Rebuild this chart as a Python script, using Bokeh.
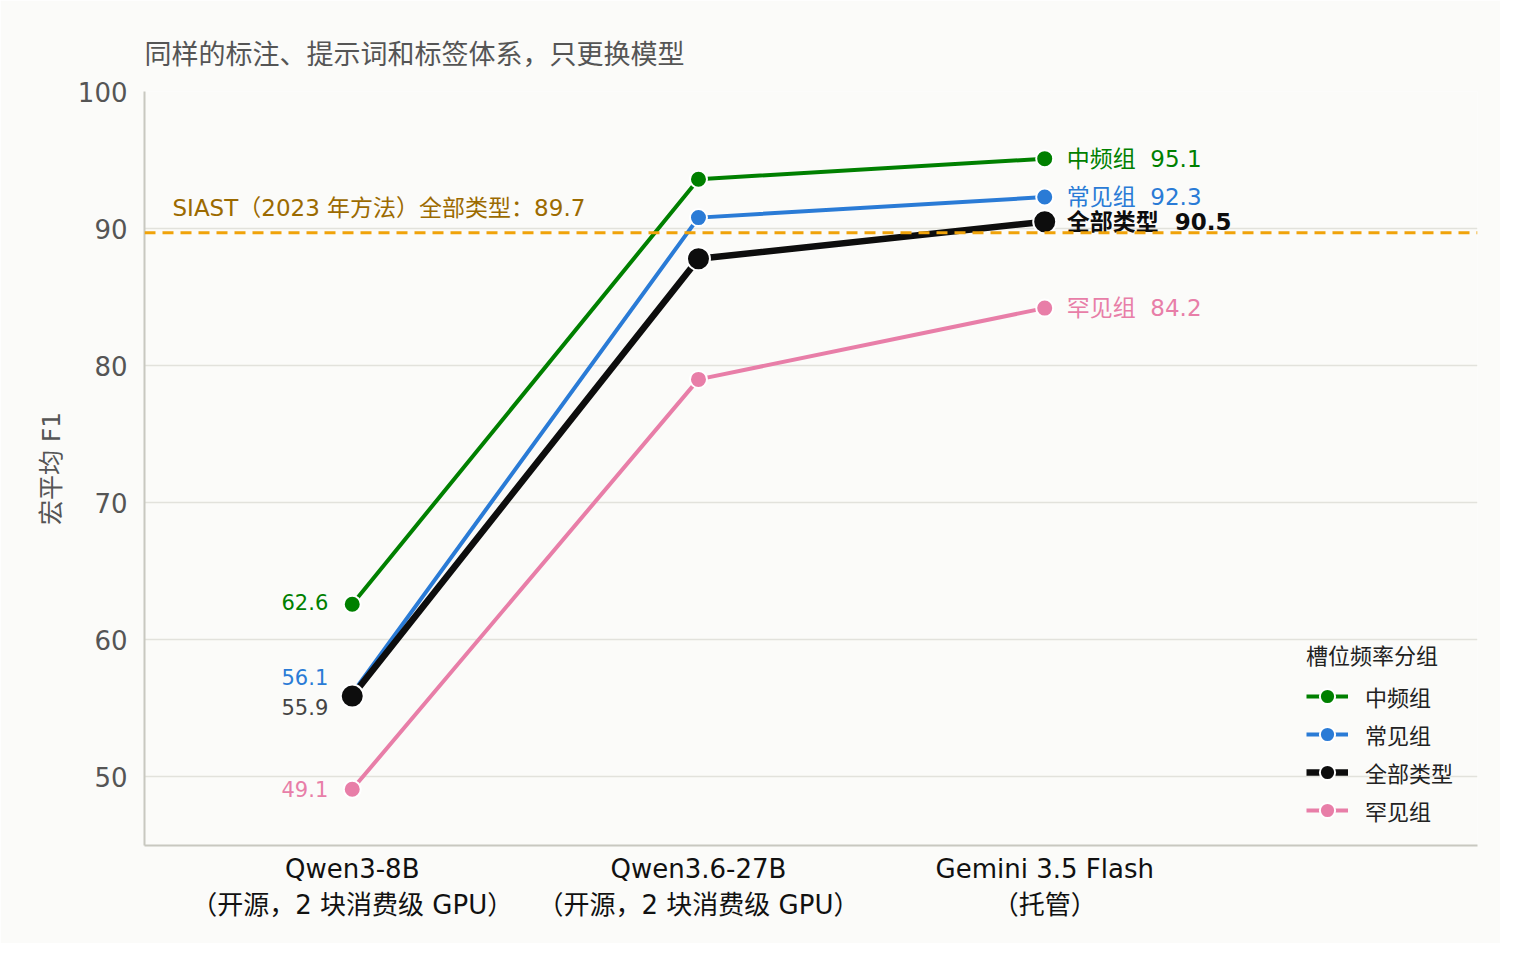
from bokeh.core.properties import value
from bokeh.embed import file_html
from bokeh.models import (ColumnDataSource, FixedTicker, Label, Legend,
                          LegendItem, Range1d, Span)
from bokeh.plotting import figure
from bokeh.resources import INLINE

# 数据：三个模型 × 四个槽位频率分组的宏平均 F1
models = ["Qwen3-8B", "Qwen3.6-27B", "Gemini 3.5 Flash"]
model_notes = ["（开源，2 块消费级 GPU）", "（开源，2 块消费级 GPU）", "（托管）"]
group_names = ["中频组", "常见组", "全部类型", "罕见组"]
mid_freq = [62.6, 93.6, 95.1]
common = [56.1, 90.8, 92.3]
all_types = [55.9, 87.8, 90.5]
rare = [49.1, 79.0, 84.2]
siast_all = 89.7
y_ticks = [50, 60, 70, 80, 90, 100]

FONT = "DejaVu Sans, Noto Sans CJK SC"
BG = "#fbfbf9"
GAP = "\u00a0\u00a0"  # SVG 会合并普通空格

x_pos = list(range(len(models)))

p = figure(
    width=1500, height=943,
    x_range=Range1d(-0.6, 3.25), y_range=Range1d(45, 100),
    output_backend="svg", toolbar_location=None,
    min_border_left=144, min_border_right=23,
    min_border_top=91, min_border_bottom=98,
    background_fill_color=BG, border_fill_color=BG,
    outline_line_color=None,
    title="同样的标注、提示词和标签体系，只更换模型",
)
p.title.text_font = FONT
p.title.text_font_size = "27px"
p.title.text_font_style = "normal"
p.title.text_color = "#555555"
p.title.standoff = 44

# 坐标轴
p.xgrid.grid_line_color = None
p.ygrid.grid_line_color = "#e2e2dc"
p.ygrid.grid_line_width = 1.5
p.yaxis.ticker = FixedTicker(ticks=y_ticks)
p.xaxis.ticker = FixedTicker(ticks=x_pos)
p.xaxis.major_label_overrides = {i: f"{m}\n{n}" for i, m, n in zip(x_pos, models, model_notes)}
for ax in (p.xaxis[0], p.yaxis[0]):
    ax.axis_line_color = "#c8c8c0"
    ax.axis_line_width = 2
    ax.major_tick_line_color = None
    ax.minor_tick_line_color = None
    ax.major_label_text_font = FONT
p.yaxis.major_label_text_font_size = "26px"
p.yaxis.major_label_text_color = "#555555"
p.yaxis.major_label_standoff = 11
p.yaxis.axis_label = "宏平均 F1"
p.yaxis.axis_label_text_font = FONT
p.yaxis.axis_label_text_font_size = "25px"
p.yaxis.axis_label_text_font_style = "normal"
p.yaxis.axis_label_text_color = "#555555"
p.yaxis.axis_label_standoff = 9
p.xaxis.major_label_text_font_size = "26px"
p.xaxis.major_label_text_color = "#111111"
p.xaxis.major_label_standoff = 2

# SIAST 基线
p.add_layout(Span(location=siast_all, dimension="width", line_color="#f0a30a",
                  line_width=3, line_dash="11 7"))
p.add_layout(Label(x=28, x_units="screen", y=siast_all, y_offset=25,
                   text=f"SIAST（2023 年方法）全部类型：{siast_all}",
                   text_font=FONT, text_font_size="23px", text_color="#9b6a00",
                   text_baseline="middle"))

series = [
    dict(name="中频组", vals=mid_freq, color="#008000", lw=4, size=17, dy=-2, lcolor="#008000", bold=False),
    dict(name="常见组", vals=common, color="#2a7bd6", lw=4, size=17, dy=-16, lcolor="#2a7bd6", bold=False),
    dict(name="罕见组", vals=rare, color="#e87ea8", lw=4, size=17, dy=0, lcolor="#e87ea8", bold=False),
    dict(name="全部类型", vals=all_types, color="#0d0d0d", lw=6.5, size=23, dy=11, lcolor="#444444", bold=True),
]

items = {}
for s in series:
    src = ColumnDataSource(dict(x=x_pos, y=s["vals"]))
    ln = p.line("x", "y", source=src, line_color=s["color"], line_width=s["lw"])
    sc = p.scatter("x", "y", source=src, size=s["size"], fill_color=s["color"],
                   line_color="white", line_width=2)
    items[s["name"]] = [ln, sc]

    # 起点数值
    p.text(x=[x_pos[0]], y=[s["vals"][0]], text=[f"{s['vals'][0]:.1f}"],
           x_offset=-24, y_offset=s["dy"], text_align="right", text_baseline="middle",
           text_font=value(FONT), text_font_size="21px", text_color=s["lcolor"])
    # 终点标注
    p.text(x=[x_pos[-1]], y=[s["vals"][-1]], text=[f"{s['name']}{GAP}{s['vals'][-1]:.1f}"],
           x_offset=22, text_align="left", text_baseline="middle",
           text_font=value(FONT), text_font_size="23px", text_color=s["color"],
           text_font_style="bold" if s["bold"] else "normal")

legend = Legend(
    items=[LegendItem(label=n, renderers=items[n]) for n in group_names],
    location=(1162, 16), title="槽位频率分组",
    title_text_font=FONT, title_text_font_size="22px", title_text_color="#222222",
    title_text_font_style="normal", title_standoff=7,
    label_text_font=FONT, label_text_font_size="22px", label_text_color="#222222",
    glyph_width=42, glyph_height=38, label_height=38, spacing=0,
    label_standoff=17, padding=0, margin=0,
    background_fill_alpha=0, border_line_color=None,
)
p.add_layout(legend)

open("out.html", "w").write(file_html(p, INLINE))
